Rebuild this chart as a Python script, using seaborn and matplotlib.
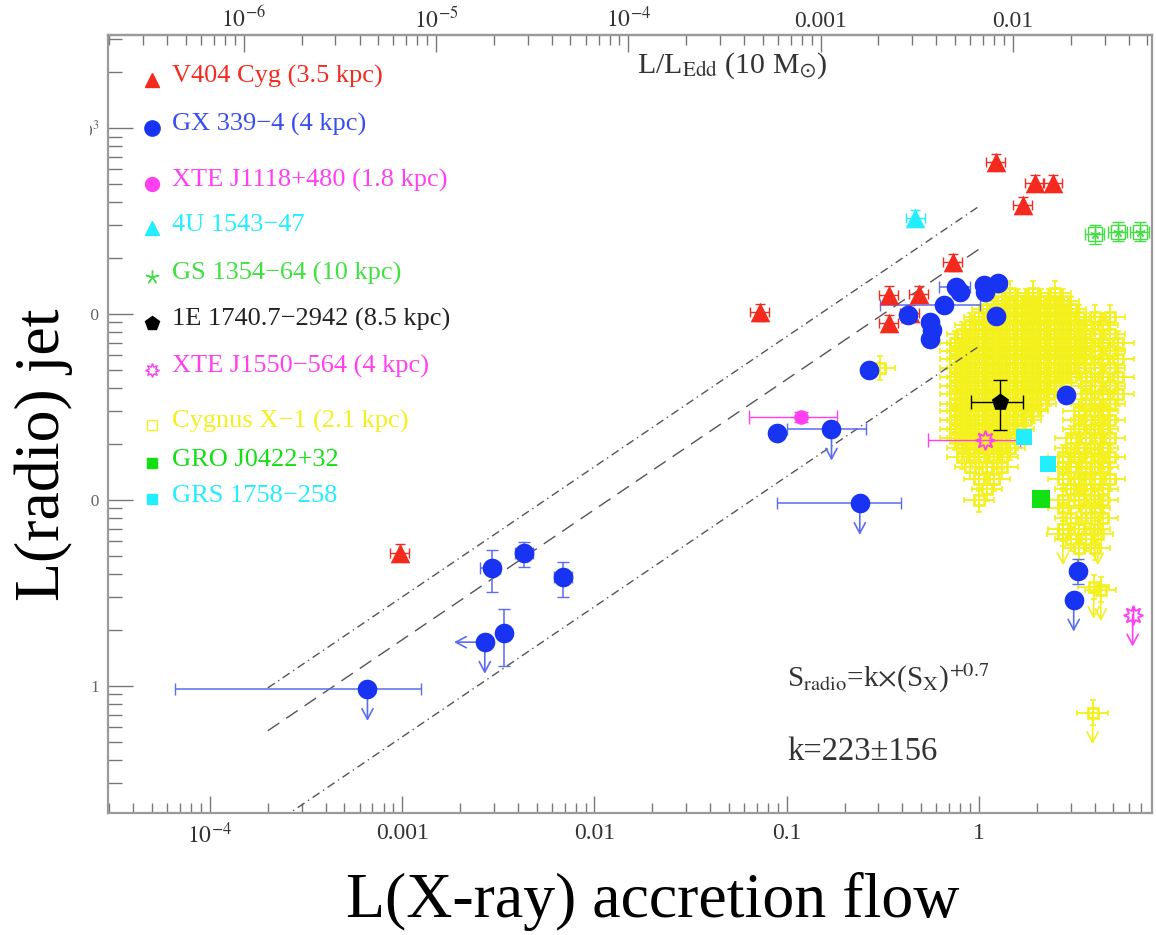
import numpy as np
import pandas as pd
import matplotlib
matplotlib.use("Agg")
import matplotlib.pyplot as plt
from matplotlib.ticker import FixedLocator, FixedFormatter, LogLocator, NullFormatter
from matplotlib.patches import Rectangle
import seaborn as sns

sns.set_style("white")
plt.rcParams['font.family'] = ['Liberation Serif', 'DejaVu Serif']
plt.rcParams['mathtext.fontset'] = 'stix'

# ---------------- data ----------------
v404_x = [0.00097, 0.0724, 0.34, 0.34, 0.436, 0.486, 0.73, 1.22, 1.69, 1.95, 2.42]
v404_y = [5.2, 102, 127, 89.5, 101, 128, 190, 656, 385, 506, 506]

u1543_x = [0.467]
u1543_y = [328]

gx_x = [6.6e-4, 2.69e-3, 3.38e-3, 2.92e-3, 4.3e-3, 6.86e-3, 0.089, 0.171, 0.24, 0.267,
        0.427, 0.555, 0.568, 0.555, 0.656, 0.757, 0.80, 1.06, 1.25, 1.08, 1.22, 2.83, 3.26, 3.11]
gx_y = [0.96, 1.72, 1.93, 4.31, 5.19, 3.86, 22.9, 24.1, 9.6, 50,
        98.8, 90.6, 82, 73.4, 112, 140, 131, 143, 147, 131, 97.6, 36.7, 4.15, 2.9]
gx_xlo = [6.6e-5, 2.69e-3, 3.38e-3, 2.54e-3, 3.85e-3, 6.15e-3, 0.089, 0.10, 0.0889, 0.267,
          0.427, 0.555, 0.568, 0.555, 0.305, 0.62, 0.80, 1.06, 1.25, 1.08, 1.22, 2.83, 3.26, 3.11]
gx_xhi = [1.26e-3, 2.69e-3, 3.38e-3, 3.22e-3, 4.79e-3, 7.62e-3, 0.089, 0.258, 0.392, 0.267,
          0.427, 0.555, 0.568, 0.555, 1.01, 0.90, 0.80, 1.06, 1.25, 1.08, 1.22, 2.83, 3.26, 3.11]
gx_ylo = [0.96, 1.72, 1.28, 3.2, 4.37, 3.0, 22.9, 24.1, 9.6, 50,
          98.8, 90.6, 82, 73.4, 112, 140, 131, 143, 147, 131, 97.6, 36.7, 3.53, 2.9]
gx_yhi = [0.96, 1.72, 2.59, 5.38, 5.94, 4.65, 22.9, 24.1, 9.6, 50,
          98.8, 90.6, 82, 73.4, 112, 140, 131, 143, 147, 131, 97.6, 36.7, 4.82, 2.9]
gx_upper_y = [0, 1, 7, 8, 23]      # indices of radio upper limits
gx_upper_x = [1]                   # index of X-ray upper limit

j1118_x, j1118_y = [0.118], [28]
j1118_xerr = [[0.118 - 0.064], [0.182 - 0.118]]
j1118_yerr = [[28 - 26.3], [29.8 - 28]]

e1740_x, e1740_y = [1.29], [33.8]
e1740_xerr = [[1.29 - 0.905], [1.69 - 1.29]]
e1740_yerr = [[33.8 - 23.8], [44 - 33.8]]

j1550_x, j1550_y = [1.08, 6.3], [21, 2.41]
j1550_xerr = [[1.08 - 0.54, 0], [1.63 - 1.08, 0]]
j1550_upper = [1]

grs_x, grs_y = [1.72, 2.28], [21.9, 15.6]
gro_x, gro_y = [2.11], [10.1]
gs_x, gs_y = [4.0, 5.27, 6.86], [268, 277, 277]

cyg_row_y = [130, 118, 106, 96, 87, 78, 70, 63, 57, 51, 46, 41, 37, 33, 30, 27, 24, 21.5,
             19, 17, 15, 13, 11.5, 10, 9, 8, 7, 6.2, 5.5]
cyg_row_x = [
    [1.45, 1.9, 2.5],
    [1.32, 1.45, 1.6, 1.75, 1.9, 2.1, 2.3, 2.5, 2.75],
    [1.1, 1.2, 1.32, 1.45, 1.6, 1.75, 1.9, 2.1, 2.3, 2.5, 2.75, 3.0],
    [1.0, 1.1, 1.2, 1.32, 1.45, 1.6, 1.75, 1.9, 2.1, 2.3, 2.5, 2.75, 3.0, 3.3, 4.0, 4.8],
    [0.9, 1.0, 1.1, 1.2, 1.32, 1.45, 1.6, 1.75, 1.9, 2.1, 2.3, 2.5, 2.75, 3.0, 3.3, 3.6, 4.4],
    [0.82, 0.9, 1.0, 1.1, 1.2, 1.32, 1.45, 1.6, 1.75, 1.9, 2.1, 2.3, 2.5, 2.75, 3.0, 3.3, 3.6, 4.0, 4.8],
    [0.75, 0.82, 0.9, 1.0, 1.1, 1.2, 1.32, 1.45, 1.6, 1.75, 1.9, 2.1, 2.3, 2.5, 2.75, 3.0, 3.3, 3.6, 4.4, 5.3],
    [0.75, 0.82, 0.9, 1.0, 1.1, 1.2, 1.32, 1.45, 1.6, 1.75, 1.9, 2.1, 2.3, 2.5, 2.75, 3.0, 3.3, 3.6, 4.0, 4.8],
    [0.75, 0.82, 0.9, 1.0, 1.1, 1.2, 1.32, 1.45, 1.6, 1.75, 1.9, 2.1, 2.3, 2.5, 2.75, 3.0, 3.3, 3.6, 4.4, 5.3],
    [0.75, 0.82, 0.9, 1.0, 1.1, 1.2, 1.32, 1.45, 1.6, 1.75, 1.9, 2.1, 2.3, 2.5, 2.75, 3.0, 3.3, 4.0, 4.8],
    [0.75, 0.82, 0.9, 1.0, 1.1, 1.2, 1.32, 1.45, 1.6, 1.75, 1.9, 2.1, 2.3, 2.5, 2.75, 3.0, 3.6, 4.4, 5.3],
    [0.75, 0.82, 0.9, 1.0, 1.1, 1.2, 1.32, 1.45, 1.6, 1.75, 1.9, 2.1, 2.3, 2.5, 3.6, 4.0, 4.8],
    [0.75, 0.82, 0.9, 1.0, 1.1, 1.2, 1.32, 1.45, 1.6, 1.75, 1.9, 2.1, 2.3, 3.6, 4.4, 5.3],
    [0.75, 0.82, 0.9, 1.0, 1.1, 1.2, 1.32, 1.45, 1.6, 1.75, 1.9, 2.1, 3.6, 4.0, 4.8],
    [0.75, 0.82, 0.9, 1.0, 1.1, 1.2, 1.32, 1.45, 1.6, 1.75, 1.9, 3.3, 4.0, 4.4],
    [0.75, 0.82, 0.9, 1.0, 1.1, 1.2, 1.32, 1.45, 1.6, 1.75, 3.3, 3.6, 4.4, 4.8],
    [0.75, 0.82, 0.9, 1.0, 1.1, 1.2, 1.32, 1.45, 1.6, 3.3, 4.0, 4.4],
    [0.75, 0.82, 0.9, 1.0, 1.1, 1.2, 1.32, 1.45, 3.0, 3.6, 4.0, 4.8],
    [0.82, 0.9, 1.0, 1.1, 1.2, 1.32, 1.45, 3.0, 3.3, 4.0, 4.4],
    [0.82, 1.0, 1.2, 1.32, 2.75, 3.3, 3.6, 4.4, 4.8],
    [0.9, 1.1, 1.32, 2.75, 3.0, 3.6, 4.0, 4.4],
    [1.0, 1.2, 2.75, 3.3, 3.6, 4.0, 4.8],
    [1.1, 3.0, 3.3, 3.6, 4.4],
    [1.0, 2.75, 3.3, 4.0, 4.4],
    [2.75, 3.6, 4.0],
    [3.0, 3.6, 4.4],
    [2.75, 3.3, 4.0],
    [3.0, 3.6],
    [3.3, 4.0],
]
cyg_extra_x, cyg_extra_y = [0.305], [51]
cyg_ul_x = [2.73, 4.15, 3.95, 4.3, 3.9]
cyg_ul_y = [6.6, 6.6, 3.4, 3.3, 0.72]

fit_k = [223, 223 + 156, 223 - 156]
fit_slope = 0.7
fit_x = [2e-4, 1.0]
edd_factor = 150.0   # L_X / (L/L_Edd)

bottom_ticks = [1e-4, 1e-3, 1e-2, 0.1, 1]
bottom_labels = [r'$10^{-4}$', '0.001', '0.01', '0.1', '1']
top_ticks = [1e-6, 1e-5, 1e-4, 1e-3, 1e-2]
top_labels = [r'$10^{-6}$', r'$10^{-5}$', r'$10^{-4}$', '0.001', '0.01']
left_ticks = [1, 10, 100, 1000]
left_labels = ['1', '10', '100', r'10$^{3}$']

legend_labels = ['V404 Cyg (3.5 kpc)', 'GX 339\u22124 (4 kpc)', 'XTE J1118+480 (1.8 kpc)',
                 '4U 1543\u221247', 'GS 1354\u221264 (10 kpc)', '1E 1740.7\u22122942 (8.5 kpc)',
                 'XTE J1550\u2212564 (4 kpc)', 'Cygnus X\u22121 (2.1 kpc)', 'GRO J0422+32',
                 'GRS 1758\u2212258']

# ---------------- style ----------------
RED = '#f52a1e'
BLUE = '#1834f2'
BLUE_E = '#5a6cf0'
MAG = '#ff40f0'
CYAN = '#22eeff'
GREEN = '#40e040'
GREEN2 = '#12e012'
YEL = '#f4f01c'
GRAY = '#555555'
SPINE = '#9a9a9a'


def dex_err(v, d):
    v = np.asarray(v, dtype=float)
    return np.vstack([v - v / 10 ** d, v * 10 ** d - v])


fig = plt.figure(figsize=(11.56, 9.35), dpi=100)
fig.patch.set_facecolor('white')
ax = fig.add_axes([108 / 1156, 1 - 813 / 935, (1152 - 108) / 1156, (813 - 35) / 935])
ax.set_xscale('log')
ax.set_yscale('log')
ax.set_xlim(10 ** -4.53, 10 ** 0.90)
ax.set_ylim(10 ** -0.683, 10 ** 3.5)

# ---- Cygnus X-1 cloud ----
cyg_x = np.array([x for xs in cyg_row_x for x in xs] + cyg_extra_x + cyg_ul_x)
cyg_y = np.array([y for y, xs in zip(cyg_row_y, cyg_row_x) for _ in xs] + cyg_extra_y + cyg_ul_y)
ax.errorbar(cyg_x, cyg_y, xerr=dex_err(cyg_x, 0.08), yerr=dex_err(cyg_y, 0.065), fmt='none',
            ecolor=YEL, elinewidth=1.3, capsize=2.5, capthick=1.2, zorder=2)
ax.plot(cyg_x, cyg_y, ls='none', marker='s', ms=7.5, mfc='none', mec=YEL, mew=1.9, zorder=2)

# ---- fit lines ----
fx = np.array(fit_x)
ax.plot(fx, fit_k[0] * fx ** fit_slope, color=GRAY, lw=1.0, ls=(0, (10, 6)), zorder=3)
ax.plot(fx, fit_k[1] * fx ** fit_slope, color=GRAY, lw=1.0, ls=(0, (6, 3, 1, 3)), zorder=3)
ax.plot(fx, fit_k[2] * fx ** fit_slope, color=GRAY, lw=1.0, ls=(0, (6, 3, 1, 3)), zorder=3)


def arrows(xs, ys, color, direction='down', lw=1.2):
    for x, y in zip(xs, ys):
        if direction == 'down':
            tip = (x, y / 10 ** 0.17)
        else:
            tip = (x / 10 ** 0.16, y)
        ax.annotate('', xy=tip, xytext=(x, y),
                    arrowprops=dict(arrowstyle='->,head_length=0.75,head_width=0.4',
                                    color=color, lw=lw, shrinkA=0, shrinkB=0), zorder=4)


arrows(cyg_ul_x, cyg_ul_y, YEL)

# ---- other sources: error bars ----
ax.errorbar(v404_x, v404_y, xerr=dex_err(v404_x, 0.05), yerr=dex_err(v404_y, 0.045), fmt='none',
            ecolor=RED, elinewidth=1.0, capsize=3.5, zorder=4)
ax.errorbar(u1543_x, u1543_y, xerr=dex_err(u1543_x, 0.05), yerr=dex_err(u1543_y, 0.045), fmt='none',
            ecolor=CYAN, elinewidth=1.0, capsize=3.5, zorder=4)
gxa = np.array(gx_x); gya = np.array(gx_y)
ax.errorbar(gxa, gya, xerr=[gxa - np.array(gx_xlo), np.array(gx_xhi) - gxa],
            yerr=[gya - np.array(gx_ylo), np.array(gx_yhi) - gya], fmt='none',
            ecolor=BLUE_E, elinewidth=1.1, capsize=4, zorder=4)
arrows([gx_x[i] for i in gx_upper_y], [gx_y[i] for i in gx_upper_y], BLUE_E)
arrows([gx_x[i] for i in gx_upper_x], [gx_y[i] for i in gx_upper_x], BLUE_E, direction='left')
ax.errorbar(j1118_x, j1118_y, xerr=j1118_xerr, yerr=j1118_yerr, fmt='none', ecolor=MAG,
            elinewidth=1.0, capsize=5, zorder=4)
ax.errorbar(e1740_x, e1740_y, xerr=e1740_xerr, yerr=e1740_yerr, fmt='none', ecolor='black',
            elinewidth=1.0, capsize=5, zorder=4)
ax.errorbar(j1550_x, j1550_y, xerr=j1550_xerr, fmt='none', ecolor=MAG, elinewidth=1.0,
            capsize=5, zorder=4)
arrows([j1550_x[i] for i in j1550_upper], [j1550_y[i] for i in j1550_upper], MAG)
ax.errorbar(gs_x, gs_y, xerr=dex_err(gs_x, 0.05), yerr=dex_err(gs_y, 0.05), fmt='s', ms=10,
            mfc='none', mec=GREEN, mew=1.0, ecolor=GREEN, elinewidth=1.0, capsize=4, zorder=4)

# ---- markers (seaborn) ----
sns.scatterplot(x=v404_x, y=v404_y, marker='^', s=200, color=RED, linewidth=0, ax=ax, zorder=5)
sns.scatterplot(x=u1543_x, y=u1543_y, marker='^', s=200, color=CYAN, linewidth=0, ax=ax, zorder=5)
sns.scatterplot(x=gx_x, y=gx_y, marker='o', s=200, color=BLUE, linewidth=0, ax=ax, zorder=5)
sns.scatterplot(x=j1118_x, y=j1118_y, marker='o', s=110, color=MAG, linewidth=0, ax=ax, zorder=5)
sns.scatterplot(x=e1740_x, y=e1740_y, marker='p', s=170, color='black', linewidth=0, ax=ax, zorder=5)
sns.scatterplot(x=grs_x, y=grs_y, marker='s', s=140, color=CYAN, linewidth=0, ax=ax, zorder=5)
sns.scatterplot(x=gro_x, y=gro_y, marker='s', s=150, color=GREEN2, linewidth=0, ax=ax, zorder=5)
ax.plot(gs_x, gs_y, ls='none', marker=(5, 2, 0), ms=7, mec=GREEN, mew=1.0, zorder=5)
ax.plot(j1550_x, j1550_y, ls='none', marker=(8, 1, 0), ms=14, mfc='none', mec=MAG, mew=1.3, zorder=5)

# ---- legend drawn as markers + coloured text ----
leg_colors = [RED, '#3a4ef0', MAG, CYAN, GREEN, '#222222', MAG, YEL, GREEN2, CYAN]
leg_py = [80, 128, 184, 228, 277, 323, 370, 425, 463, 499]
leg_markers = [dict(marker='^', ms=10, mfc=RED, mec=RED),
               dict(marker='o', ms=11, mfc=BLUE, mec=BLUE),
               dict(marker='o', ms=10, mfc=MAG, mec=MAG),
               dict(marker='^', ms=10, mfc=CYAN, mec=CYAN),
               dict(marker=(5, 2, 0), ms=10, mec=GREEN, mew=1.0),
               dict(marker='p', ms=10, mfc='black', mec='black'),
               dict(marker=(8, 1, 0), ms=10, mfc='none', mec=MAG, mew=1.0),
               dict(marker='s', ms=7, mfc='none', mec=YEL, mew=1.0),
               dict(marker='s', ms=7, mfc=GREEN2, mec=GREEN2),
               dict(marker='s', ms=7, mfc=CYAN, mec=CYAN)]
for lab, col, py, mk in zip(legend_labels, leg_colors, leg_py, leg_markers):
    fy = (813 - py) / 778
    ax.plot([(152 - 108) / 1044], [fy], transform=ax.transAxes, ls='none', clip_on=False,
            zorder=6, **mk)
    ax.text((172 - 108) / 1044, (813 - py - 3) / 778, lab, transform=ax.transAxes, color=col,
            fontsize=19, ha='left', va='baseline', zorder=6)

# ---- annotations ----
ax.text((787 - 108) / 1044, (813 - 687) / 778,
        r'S$_{\rm radio}$=k$\times$(S$_{\rm X}$)$^{+0.7}$', transform=ax.transAxes,
        fontsize=21, color='#333333', ha='left', va='baseline')
ax.text((787 - 108) / 1044, (813 - 760) / 778, 'k=223\u00b1156', transform=ax.transAxes,
        fontsize=23.5, color='#333333', ha='left', va='baseline')
ax.text((637 - 108) / 1044, (813 - 73) / 778, r'L/L$_{\rm Edd}$ (10 M$_{\odot}$)',
        transform=ax.transAxes, fontsize=21.5, color='#333333', ha='left', va='baseline')

# ---- axes styling ----
for sp in ax.spines.values():
    sp.set_color(SPINE)
    sp.set_linewidth(1.6)
ax.xaxis.set_major_locator(FixedLocator(bottom_ticks))
ax.xaxis.set_major_formatter(FixedFormatter(bottom_labels))
ax.xaxis.set_minor_locator(LogLocator(base=10, subs=np.arange(2, 10), numticks=50))
ax.xaxis.set_minor_formatter(NullFormatter())
ax.yaxis.set_major_locator(FixedLocator(left_ticks))
ax.yaxis.set_major_formatter(FixedFormatter(left_labels))
ax.yaxis.set_minor_locator(LogLocator(base=10, subs=np.arange(2, 10), numticks=50))
ax.yaxis.set_minor_formatter(NullFormatter())
ax.tick_params(axis='x', which='both', direction='in', bottom=True, top=False, color='#777777',
               width=1.0, labelsize=17, labelcolor='#333333', pad=7)
ax.tick_params(axis='x', which='major', length=12)
ax.tick_params(axis='x', which='minor', length=7)
ax.tick_params(axis='y', which='both', direction='in', left=True, right=False, color='#777777',
               width=1.0, labelsize=12.5, labelcolor='#666666', pad=6)
ax.tick_params(axis='y', which='major', length=18)
ax.tick_params(axis='y', which='minor', length=10)

sec = ax.secondary_xaxis('top', functions=(lambda v: v / edd_factor, lambda v: v * edd_factor))
sec.xaxis.set_major_locator(FixedLocator(top_ticks))
sec.xaxis.set_major_formatter(FixedFormatter(top_labels))
sec.xaxis.set_minor_locator(LogLocator(base=10, subs=np.arange(2, 10), numticks=50))
sec.xaxis.set_minor_formatter(NullFormatter())
sec.tick_params(axis='x', which='both', direction='in', color='#777777', width=1.0,
                labelsize=17, labelcolor='#333333', pad=2)
sec.tick_params(axis='x', which='major', length=12)
sec.tick_params(axis='x', which='minor', length=7)
sec.spines['top'].set_color(SPINE)
sec.spines['top'].set_linewidth(1.6)

# cover over the clipped tick labels, then the big axis titles
fig.add_artist(Rectangle((0, 0), 90 / 1156, 1, transform=fig.transFigure, facecolor='white',
                         edgecolor='none', zorder=10))
fig.text(44 / 1156, 1 - 455 / 935, 'L(radio) jet', rotation=90, ha='center', va='center',
         fontsize=46, color='black', zorder=11)
fig.text(653 / 1156, 1 - 917 / 935, 'L(X-ray) accretion flow', ha='center', va='baseline',
         fontsize=46, color='black', zorder=11)

fig.savefig('out.png', dpi=100, facecolor='white')
